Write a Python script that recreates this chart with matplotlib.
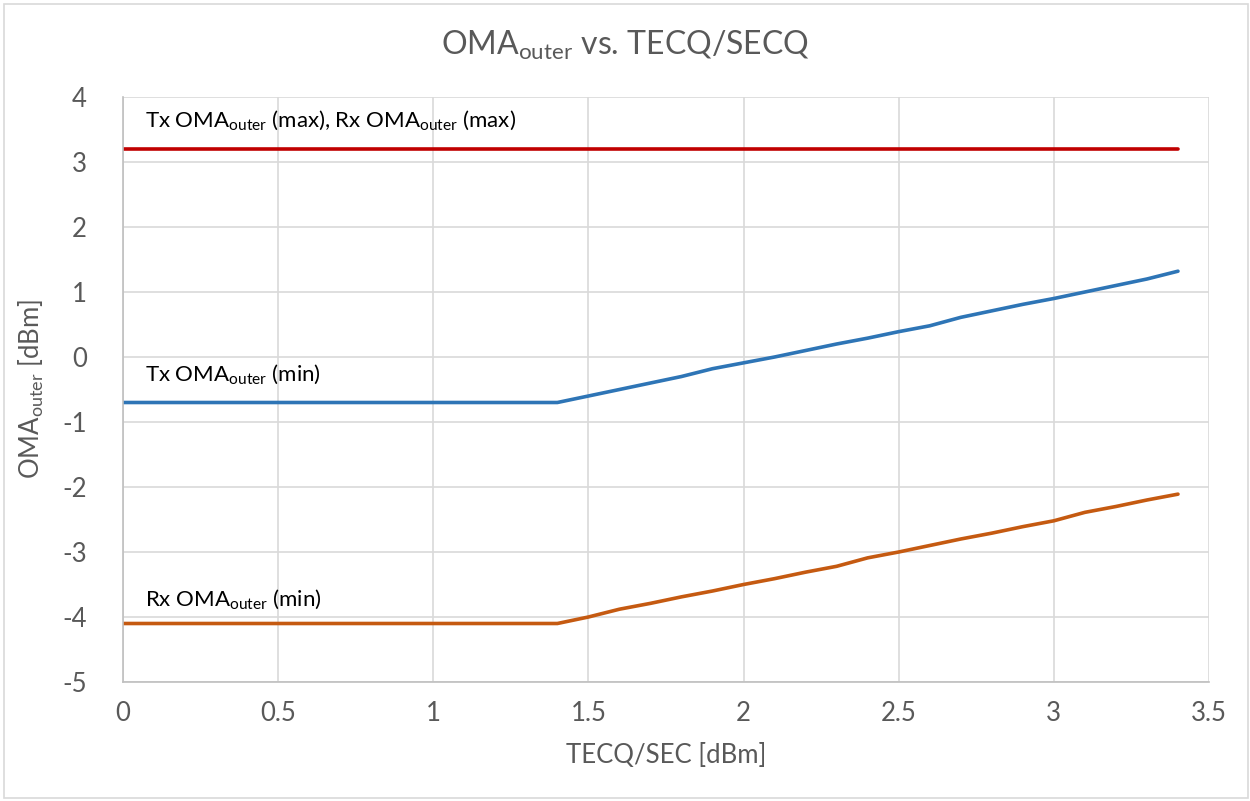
import matplotlib
matplotlib.use("Agg")
import matplotlib.pyplot as plt
from matplotlib.patches import Rectangle

plt.rcParams['font.family'] = ['Lato', 'DejaVu Sans']
plt.rcParams['mathtext.default'] = 'regular'
plt.rcParams['axes.unicode_minus'] = False

# TECQ/SECQ values (dBm)
tecq = [0.0, 0.1, 0.2, 0.3, 0.4, 0.5, 0.6, 0.7, 0.8, 0.9, 1.0, 1.1, 1.2, 1.3, 1.4,
        1.5, 1.6, 1.7, 1.8, 1.9, 2.0, 2.1, 2.2, 2.3, 2.4, 2.5, 2.6, 2.7, 2.8, 2.9,
        3.0, 3.1, 3.2, 3.3, 3.4]

# max OMA (Tx and Rx are the same)
oma_max = [3.2] * len(tecq)

# Tx OMA outer (min)
tx_min = [-0.7] * 15 + [-0.6, -0.5, -0.4, -0.3, -0.18, -0.09, 0.0, 0.1, 0.2, 0.29,
                        0.39, 0.48, 0.61, 0.71, 0.81, 0.9, 1.0, 1.1, 1.2, 1.32]

# Rx OMA outer (min)
rx_min = [-4.1] * 15 + [-4.0, -3.88, -3.79, -3.69, -3.6, -3.5, -3.41, -3.31, -3.22, -3.09,
                        -3.0, -2.9, -2.8, -2.71, -2.61, -2.52, -2.39, -2.3, -2.2, -2.11]

xticks = [0, 0.5, 1, 1.5, 2, 2.5, 3, 3.5]
xtick_labels = ['0', '0.5', '1', '1.5', '2', '2.5', '3', '3.5']
yticks = [-5, -4, -3, -2, -1, 0, 1, 2, 3, 4]

gray = '#595959'

fig = plt.figure(figsize=(12.5, 8.01), dpi=100)
ax = fig.add_axes([123 / 1250, 1 - 682 / 801, (1209 - 123) / 1250, (682 - 97) / 801])

# chart border like excel
fig.patches.append(Rectangle((4 / 1250, 3 / 801), 1244 / 1250, 794 / 801, transform=fig.transFigure,
                             fill=False, edgecolor='#D9D9D9', linewidth=1.2))

ax.plot(tecq, oma_max, color='#C00000', linewidth=2.6, solid_capstyle='round')
ax.plot(tecq, tx_min, color='#2E75B6', linewidth=2.6, solid_capstyle='round')
ax.plot(tecq, rx_min, color='#C55A11', linewidth=2.6, solid_capstyle='round')

ax.set_xlim(0, 3.5)
ax.set_ylim(-5, 4)
ax.set_xticks(xticks)
ax.set_xticklabels(xtick_labels)
ax.set_yticks(yticks)
ax.grid(True, color='#D9D9D9', linewidth=1.2)
ax.set_axisbelow(True)
ax.tick_params(length=0, labelsize=18.5, labelcolor=gray)
ax.tick_params(axis='y', pad=26)
ax.tick_params(axis='x', pad=14)

for side in ['top', 'right']:
    ax.spines[side].set_visible(False)
for side in ['left', 'bottom']:
    ax.spines[side].set_color('#BFBFBF')
    ax.spines[side].set_linewidth(1.2)

# labels on the lines
ax.text(0.07, 3.65, 'Tx OMA$_{outer}$ (max), Rx OMA$_{outer}$ (max)', fontsize=16, color='#000000', va='center')
ax.text(0.07, -0.27, 'Tx OMA$_{outer}$ (min)', fontsize=16, color='#000000', va='center')
ax.text(0.07, -3.73, 'Rx OMA$_{outer}$ (min)', fontsize=16, color='#000000', va='center')

fig.suptitle('OMA$_{outer}$ vs. TECQ/SECQ', fontsize=23, color=gray, x=0.5, y=1 - 45 / 801, va='center')
ax.set_xlabel('TECQ/SEC [dBm]', fontsize=18.5, color=gray, labelpad=12)
ax.set_ylabel('OMA$_{outer}$ [dBm]', fontsize=18.5, color=gray, labelpad=12)

fig.savefig('out.png', dpi=100)
